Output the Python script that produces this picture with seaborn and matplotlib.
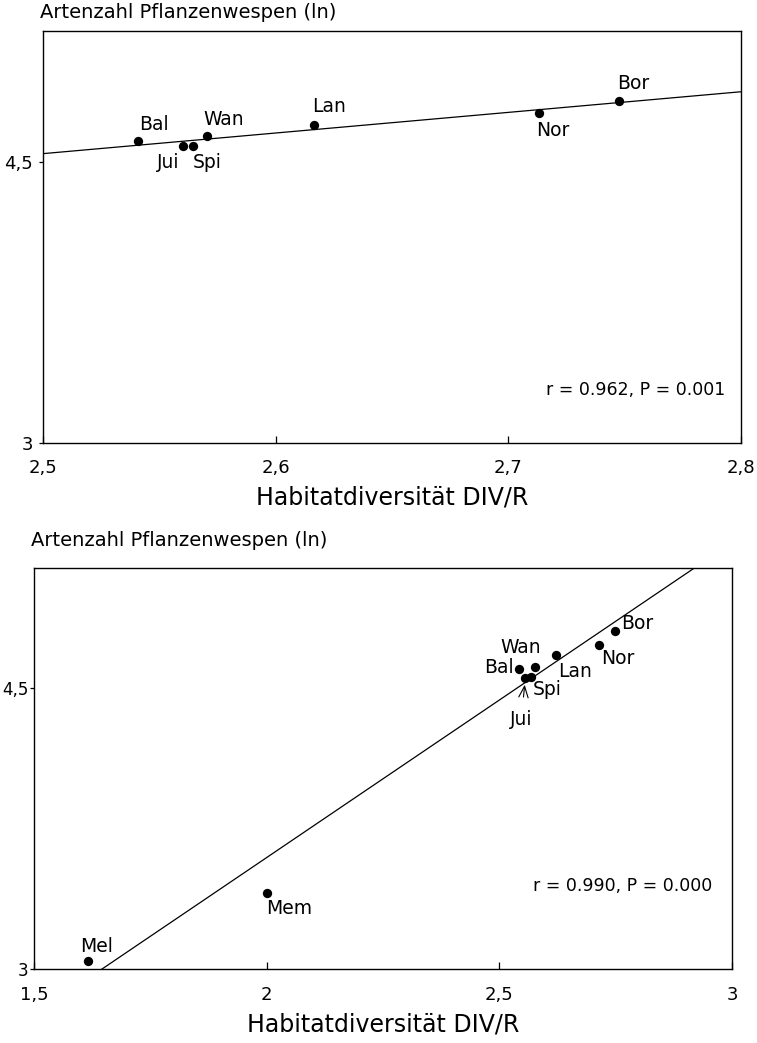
import pandas as pd
import seaborn as sns
import matplotlib.pyplot as plt

# Daten oben (ohne Mel, Mem)
namen_oben = ["Bal", "Jui", "Spi", "Wan", "Lan", "Nor", "Bor"]
div_oben = [2.541, 2.560, 2.5645, 2.5705, 2.6165, 2.713, 2.7475]
arten_oben = [4.614, 4.587, 4.587, 4.641, 4.700, 4.764, 4.828]

# Daten unten (alle Standorte)
namen_unten = ["Mel", "Mem", "Bal", "Jui", "Spi", "Wan", "Lan", "Nor", "Bor"]
div_unten = [1.617, 2.0, 2.543, 2.556, 2.569, 2.576, 2.621, 2.715, 2.749]
arten_unten = [3.044, 3.406, 4.602, 4.554, 4.559, 4.612, 4.676, 4.730, 4.805]

xticks_oben = [2.5, 2.6, 2.7, 2.8]
xticklabels_oben = ["2,5", "2,6", "2,7", "2,8"]
xticks_unten = [1.5, 2.0, 2.5, 3.0]
xticklabels_unten = ["1,5", "2", "2,5", "3"]
yticks = [3, 4.5]
yticklabels = ["3", "4,5"]

stat_oben = "r = 0.962, P = 0.001"
stat_unten = "r = 0.990, P = 0.000"

# Label-Versatz in Punkten
versatz_oben = {"Bal": (11, 12), "Jui": (-10.5, -12), "Spi": (10, -12), "Wan": (12, 12),
                "Lan": (11, 13), "Nor": (10, -13), "Bor": (10, 12.5)}
versatz_unten = {"Mel": (6, 10), "Mem": (16, -11.5), "Bal": (-15, 1), "Jui": (-3, -30),
                 "Spi": (11.5, -9), "Wan": (-10, 14), "Lan": (14, -12), "Nor": (13.5, -10),
                 "Bor": (16, 5.5)}

sns.set_style("ticks")
plt.rcParams["font.family"] = ["DejaVu Sans"]
for k in ["text.color", "axes.labelcolor", "xtick.color", "ytick.color", "axes.edgecolor"]:
    plt.rcParams[k] = "black"

fig = plt.figure(figsize=(7.57, 10.43), dpi=100)
ax1 = fig.add_axes([0.0568, 0.5755, 0.9221, 0.3951])
ax2 = fig.add_axes([0.0449, 0.0709, 0.9221, 0.3845])


def panel(ax, namen, xs, ys, xlim, ylim, xt, xtl, versatz, stat, stat_pos, ylab_y, yfs, ypad):
    df = pd.DataFrame({"name": namen, "div": xs, "arten": ys})
    ax.set_xlim(*xlim)
    ax.set_ylim(*ylim)
    sns.regplot(data=df, x="div", y="arten", ax=ax, ci=None, truncate=False, scatter=False,
                line_kws={"color": "black", "lw": 0.9})
    sns.scatterplot(data=df, x="div", y="arten", ax=ax, color="black", s=45,
                    edgecolor="black", linewidth=0, zorder=3)
    ax.set_xlim(*xlim)
    ax.set_ylim(*ylim)
    for n, x, y in zip(namen, xs, ys):
        dx, dy = versatz[n]
        if n == "Jui" and len(namen) > 7:
            ax.annotate(n, xy=(x, y), xytext=(dx, dy), textcoords="offset points",
                        ha="center", va="center", fontsize=13.5,
                        arrowprops=dict(arrowstyle="->,head_length=0.6,head_width=0.25",
                                        color="black", lw=0.8, shrinkA=7, shrinkB=5))
        else:
            ax.annotate(n, xy=(x, y), xytext=(dx, dy), textcoords="offset points",
                        ha="center", va="center", fontsize=13.5)
    ax.set_xticks(xt)
    ax.set_xticklabels(xtl, fontsize=13)
    ax.set_yticks(yticks)
    ax.set_yticklabels(yticklabels, fontsize=yfs)
    ax.tick_params(axis="x", direction="in", length=5, width=0.9, pad=12)
    ax.tick_params(axis="y", direction="out", length=3, width=0.9, pad=ypad)
    for s in ax.spines.values():
        s.set_visible(True)
        s.set_linewidth(1.0)
        s.set_color("black")
    ax.set_xlabel("Habitatdiversität DIV/R", fontsize=17, labelpad=6)
    ax.set_ylabel("")
    ax.text(-0.004, ylab_y, "Artenzahl Pflanzenwespen (ln)", transform=ax.transAxes,
            fontsize=14, ha="left", va="bottom")
    ax.text(stat_pos[0], stat_pos[1], stat, transform=ax.transAxes,
            fontsize=12.5, ha="right", va="center")


panel(ax1, namen_oben, div_oben, arten_oben, (2.5, 2.8), (3, 5.204),
      xticks_oben, xticklabels_oben, versatz_oben, stat_oben, (0.977, 0.128), 1.02, 13, 4)
panel(ax2, namen_unten, div_unten, arten_unten, (1.5, 3.0), (3, 5.14),
      xticks_unten, xticklabels_unten, versatz_unten, stat_unten, (0.971, 0.207), 1.045, 12, 1)

plt.savefig("out.png", dpi=100)
